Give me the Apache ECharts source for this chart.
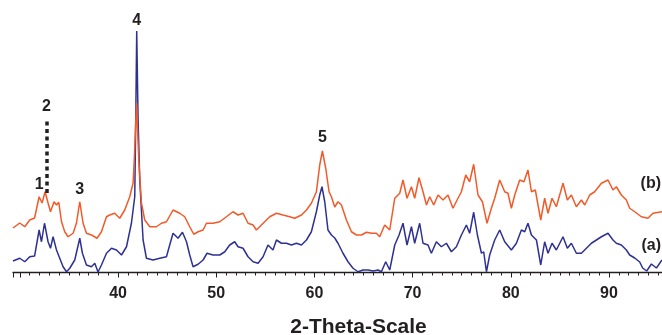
<!DOCTYPE html>
<html>
<head>
<meta charset="utf-8">
<script src="https://cdn.jsdelivr.net/npm/echarts@6/dist/echarts.min.js"></script>
<style>
  html, body { margin: 0; padding: 0; background: #fff; }
  #chart { width: 662px; height: 335px; }
</style>
</head>
<body>
<div id="chart"></div>
<script>
// Diffraction pattern (b): 2-theta positions and intensities (arbitrary units)
const orangeTheta = [29.3, 29.99, 30.50, 31.00, 31.50, 31.96, 32.26, 32.57, 32.87, 33.12,
  33.48, 33.73, 33.96, 34.24, 34.57, 34.91, 35.42, 35.76, 36.10, 36.44,
  36.78, 37.29, 37.86, 38.31, 38.82, 39.15, 39.66, 40.17, 40.68, 41.19,
  41.53, 41.65, 41.88, 42.11, 42.38, 42.72, 43.23, 43.91, 44.42, 44.93,
  45.60, 45.77, 46.28, 46.79, 47.30, 47.71, 48.15, 48.66, 49.00, 49.67,
  50.36, 51.04, 51.71, 52.22, 52.73, 53.24, 53.75, 54.09, 54.60, 55.11,
  55.45, 56.13, 56.80, 57.48, 57.99, 58.68, 59.19, 59.69, 60.20, 60.54,
  60.81, 61.15, 61.49, 61.73, 62.07, 62.40, 62.75, 63.26, 63.77, 64.28,
  64.79, 65.30, 65.80, 66.31, 66.65, 67.16, 67.67, 68.18, 68.69, 69.02,
  69.43, 69.88, 70.21, 70.65, 71.06, 71.41, 71.74, 72.15, 72.59, 73.10,
  73.60, 74.11, 74.62, 74.97, 75.41, 75.81, 76.22, 76.66, 77.11, 77.58,
  78.02, 78.36, 78.87, 79.38, 79.71, 80.06, 80.40, 80.91, 81.34, 81.75,
  82.10, 82.50, 82.77, 83.05, 83.45, 83.79, 84.20, 84.64, 85.32, 85.76,
  86.17, 86.68, 87.19, 87.53, 88.04, 88.54, 89.23, 89.90, 90.41, 90.75,
  91.26, 91.77, 92.11, 92.62, 93.30, 93.97, 94.48, 95.4];
const orangeCounts = [178, 198, 183, 210, 218, 303, 278, 323, 278, 243,
  283, 270, 281, 203, 163, 143, 157, 197, 283, 197,
  157, 150, 137, 163, 223, 230, 237, 217, 250, 303,
  358, 450, 678, 450, 278, 210, 183, 183, 197, 203,
  250, 243, 237, 223, 183, 153, 163, 170, 197, 197,
  203, 223, 243, 230, 237, 197, 190, 170, 190, 210,
  223, 237, 230, 223, 217, 230, 250, 277, 323, 430,
  486, 417, 323, 303, 262, 283, 270, 210, 163, 150,
  150, 161, 157, 157, 143, 190, 170, 297, 317, 370,
  297, 343, 297, 379, 323, 270, 303, 270, 310, 290,
  310, 257, 297, 323, 390, 363, 433, 310, 283, 197,
  257, 297, 370, 323, 317, 257, 310, 370, 363, 410,
  323, 330, 270, 210, 297, 237, 297, 263, 357, 290,
  310, 263, 290, 270, 310, 323, 357, 370, 330, 343,
  310, 290, 257, 243, 223, 217, 237, 243];

// Diffraction pattern (a)
const blueTheta = [29.3, 29.99, 30.50, 31.00, 31.50, 31.96, 32.20, 32.51, 32.87, 33.12,
  33.38, 33.73, 34.06, 34.40, 34.75, 35.08, 35.59, 36.10, 36.37, 36.78,
  37.29, 37.63, 37.96, 38.31, 38.82, 39.33, 39.84, 40.35, 40.86, 41.36,
  41.70, 41.80, 41.90, 42.04, 42.21, 42.55, 42.89, 43.56, 44.25, 44.93,
  45.26, 45.60, 46.11, 46.56, 46.97, 47.30, 47.64, 48.15, 48.66, 49.06,
  49.67, 50.36, 50.87, 51.37, 51.88, 52.22, 52.73, 53.24, 53.75, 54.26,
  54.77, 55.27, 55.78, 56.13, 56.64, 57.15, 57.66, 58.17, 58.68, 59.19,
  59.69, 60.20, 60.54, 60.77, 61.05, 61.38, 61.73, 62.07, 62.40, 62.91,
  63.42, 63.93, 64.44, 64.95, 65.46, 65.97, 66.48, 66.82, 67.26, 67.67,
  68.18, 68.62, 69.02, 69.43, 69.88, 70.21, 70.72, 71.06, 71.57, 71.91,
  72.42, 72.93, 73.44, 73.95, 74.46, 74.97, 75.48, 75.81, 76.22, 76.60,
  77.01, 77.24, 77.52, 77.85, 78.36, 78.87, 79.38, 80.06, 80.57, 81.08,
  81.42, 81.75, 82.10, 82.61, 83.05, 83.45, 83.79, 84.20, 84.64, 85.32,
  85.76, 86.17, 86.68, 87.19, 87.70, 88.21, 88.72, 89.23, 89.90, 90.41,
  90.75, 91.26, 91.77, 92.11, 92.62, 93.13, 93.43, 93.84, 94.32, 94.83, 95.4];
const blueCounts = [46, 57, 43, 63, 66, 170, 123, 197, 123, 97,
  143, 90, 57, 23, 3, 17, 50, 137, 77, 30,
  23, 37, 2, 30, 77, 97, 90, 70, 103, 197,
  303, 610, 966, 610, 370, 130, 57, 50, 57, 63,
  110, 157, 137, 161, 123, 70, 23, 33, 50, 77,
  70, 70, 83, 110, 123, 103, 97, 63, 43, 37,
  63, 110, 90, 130, 117, 117, 110, 117, 110, 130,
  163, 243, 310, 343, 283, 170, 150, 138, 117, 77,
  43, 17, 3, 10, 10, 6, 10, 3, 43, 10,
  110, 150, 197, 110, 183, 117, 197, 117, 110, 77,
  123, 103, 117, 83, 103, 150, 190, 157, 241, 150,
  77, 83, 3, 70, 130, 170, 123, 90, 117, 170,
  163, 197, 150, 130, 30, 123, 77, 117, 90, 143,
  97, 117, 77, 77, 97, 117, 130, 143, 157, 130,
  117, 110, 90, 70, 58, 42, 18, 6, 34, 18, 50];

// Axis tick labels
const tickLabels = [40, 50, 60, 70, 80, 90];

// Numbered reflections: label text, 2-theta, and the height the label sits on
const peakNames = ['1', '2', '3', '4', '5'];
const peakTheta = [31.96, 32.70, 36.10, 41.90, 60.81];
const peakCounts = [303, 618, 283, 966, 486];

// Marker line under reflection 2
const marker2Theta = 32.70;
const marker2From = 318;
const marker2To = 618;

const seriesNames = ['(a)', '(b)'];

const ink = '#231f20';
const fontFamily = '"Liberation Sans", Arial, Helvetica, sans-serif';
const pairs = (xs, ys) => xs.map((x, i) => [x, ys[i]]);
const labelGaps = [4, 3.5, 4, 2, 5];

const chart = echarts.init(document.getElementById('chart'), null, { renderer: 'canvas' });

chart.setOption({
  animation: false,
  grid: { left: 13, right: 0, top: 22.5, bottom: 62.5, containLabel: false, outerBoundsMode: 'none' },
  xAxis: {
    type: 'value',
    min: 29.3,
    max: 95.4,
    splitNumber: 6,
    axisLine: { show: true, lineStyle: { color: ink, width: 1.3 } },
    axisTick: { show: true, inside: false, length: 5, lineStyle: { color: ink, width: 1 } },
    minorTick: { show: true, splitNumber: 10, length: 3, lineStyle: { color: ink, width: 1 } },
    splitLine: { show: false },
    minorSplitLine: { show: false },
    axisLabel: {
      formatter: v => (tickLabels.indexOf(Math.round(v * 1000) / 1000) >= 0 ? String(v) : ''),
      fontSize: 16, fontWeight: 'bold', color: ink, margin: 13, fontFamily
    },
    name: '2-Theta-Scale',
    nameLocation: 'middle',
    nameGap: 44,
    nameTextStyle: { fontSize: 21, fontWeight: 'bold', color: ink, fontFamily, padding: [0, 0, 0, 42] }
  },
  yAxis: { type: 'value', min: 0, max: 1000, show: false },
  graphic: [
    { type: 'text', right: 1, top: 176, style: { text: seriesNames[1], font: 'bold 16px ' + fontFamily, fill: ink } },
    { type: 'text', right: 1, top: 238, style: { text: seriesNames[0], font: 'bold 16px ' + fontFamily, fill: ink } }
  ],
  series: [
    {
      name: seriesNames[0],
      type: 'line',
      data: pairs(blueTheta, blueCounts),
      showSymbol: false,
      symbol: 'none',
      lineStyle: { color: '#2e3192', width: 1.5 },
      z: 2
    },
    {
      name: seriesNames[1],
      type: 'line',
      data: pairs(orangeTheta, orangeCounts),
      showSymbol: false,
      symbol: 'none',
      lineStyle: { color: '#f15a29', width: 1.5 },
      z: 3,
      markLine: {
        silent: true,
        symbol: ['none', 'none'],
        label: { show: false },
        lineStyle: { color: ink, type: [4, 3.5], width: 3.5, opacity: 1 },
        data: [[{ coord: [marker2Theta, marker2From] }, { coord: [marker2Theta, marker2To] }]]
      }
    },
    {
      name: 'reflections',
      type: 'scatter',
      symbolSize: 0,
      itemStyle: { opacity: 1 },
      z: 4,
      data: peakTheta.map((t, i) => ({
        value: [t, peakCounts[i]],
        label: { distance: labelGaps[i] }
      })),
      label: {
        show: true,
        position: 'top',
        opacity: 1,
        formatter: p => peakNames[p.dataIndex],
        fontSize: 16, fontWeight: 'bold', color: ink, fontFamily
      }
    }
  ]
});
</script>
</body>
</html>
